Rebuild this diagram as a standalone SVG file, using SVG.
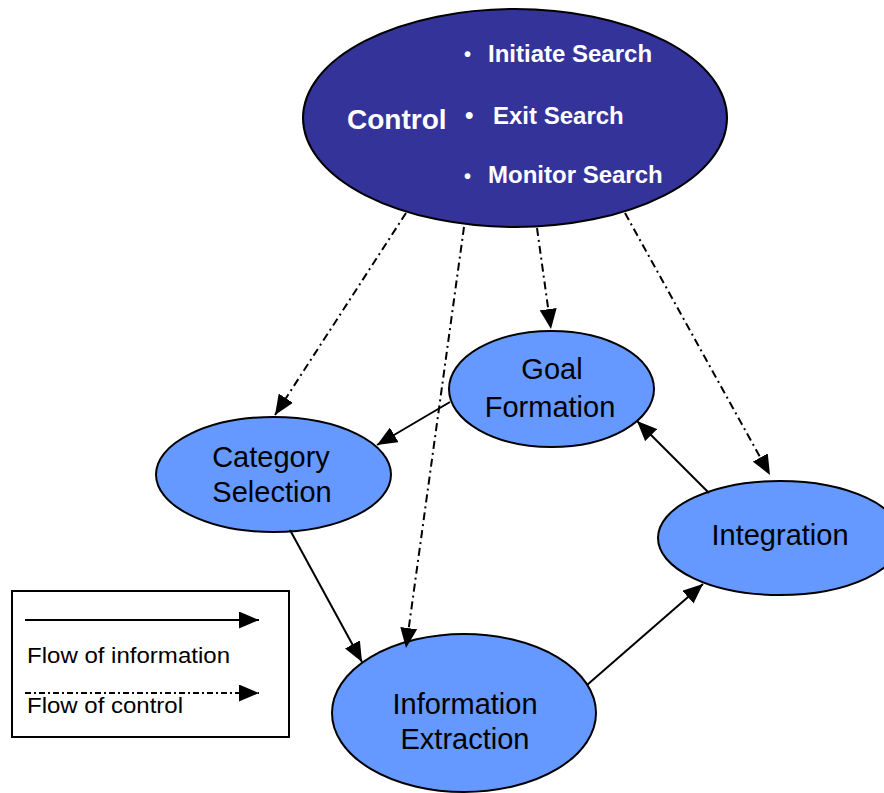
<svg xmlns="http://www.w3.org/2000/svg" width="884" height="793" viewBox="0 0 884 793">
  <defs>
    <marker id="arrow" viewBox="0 0 20 17" refX="20" refY="8.5" markerWidth="20" markerHeight="17" markerUnits="userSpaceOnUse" orient="auto">
      <path d="M0,0 L20,8.5 L0,17 Z" fill="#000"/>
    </marker>
    <style>
      .ctrl { fill: #333399; stroke: #000; stroke-width: 2; }
      .node { fill: #6699ff; stroke: #000; stroke-width: 2; }
      .ctext { font-family: "Liberation Sans", Arial, sans-serif; font-weight: bold; fill: #fff; }
      .ntext { font-family: "Liberation Sans", Arial, sans-serif; font-size: 29px; fill: #000; text-anchor: middle; }
      .info { fill: none; stroke: #000; stroke-width: 2; marker-end: url(#arrow); }
      .control { fill: none; stroke: #000; stroke-width: 2; stroke-dasharray: 8 4 2 4; marker-end: url(#arrow); }
      .legend { font-family: "Liberation Sans", Arial, sans-serif; font-size: 22px; fill: #000; }
    </style>
  </defs>
  <rect width="884" height="793" fill="#fff"/>

  <g id="control">
    <ellipse class="ctrl" cx="515" cy="118" rx="212" ry="109"/>
    <text class="ctext" x="347" y="129" font-size="28">Control</text>
    <text class="ctext" x="464" y="61" font-size="20">•</text>
    <text class="ctext" x="488" y="62" font-size="24">Initiate Search</text>
    <text class="ctext" x="465" y="123" font-size="24">•</text>
    <text class="ctext" x="493" y="124" font-size="24">Exit Search</text>
    <text class="ctext" x="464" y="183" font-size="20">•</text>
    <text class="ctext" x="488" y="183" font-size="24">Monitor Search</text>
  </g>

  <g id="goal-formation">
    <ellipse class="node" cx="551.5" cy="389" rx="102.5" ry="58"/>
    <text class="ntext" x="552" y="379">Goal</text>
    <text class="ntext" x="550" y="417">Formation</text>
  </g>

  <g id="category-selection">
    <ellipse class="node" cx="273.5" cy="474.5" rx="117.5" ry="57.5"/>
    <text class="ntext" x="271" y="467">Category</text>
    <text class="ntext" x="272" y="502">Selection</text>
  </g>

  <g id="integration">
    <ellipse class="node" cx="780" cy="538" rx="122" ry="57"/>
    <text class="ntext" x="780" y="545">Integration</text>
  </g>

  <g id="information-extraction">
    <ellipse class="node" cx="464" cy="713" rx="132" ry="79"/>
    <text class="ntext" x="465" y="714">Information</text>
    <text class="ntext" x="465" y="749">Extraction</text>
  </g>

  <g id="connectors">
    <!-- control flow from the Control node -->
    <line class="control" x1="406" y1="213" x2="275" y2="415"/>
    <line class="control" x1="464" y1="227" x2="406" y2="648"/>
    <line class="control" x1="537" y1="228" x2="551" y2="329"/>
    <line class="control" x1="625" y1="213" x2="770" y2="475"/>
    <!-- information flow between stages -->
    <line class="info" x1="450" y1="402" x2="377" y2="445"/>
    <line class="info" x1="709" y1="493" x2="637" y2="421"/>
    <line class="info" x1="290" y1="530" x2="362" y2="662"/>
    <line class="info" x1="587" y1="685" x2="703" y2="584"/>
  </g>

  <g id="legend">
    <rect x="12" y="591" width="277" height="146" fill="#fff" stroke="#000" stroke-width="2"/>
    <line class="info" x1="25" y1="620" x2="259" y2="620"/>
    <text class="legend" x="27" y="663" textLength="203" lengthAdjust="spacingAndGlyphs">Flow of information</text>
    <line class="control" x1="25" y1="693" x2="259" y2="693" style="stroke-dasharray: 6 3 2 3"/>
    <text class="legend" x="27" y="713" textLength="156" lengthAdjust="spacingAndGlyphs">Flow of control</text>
  </g>
</svg>
